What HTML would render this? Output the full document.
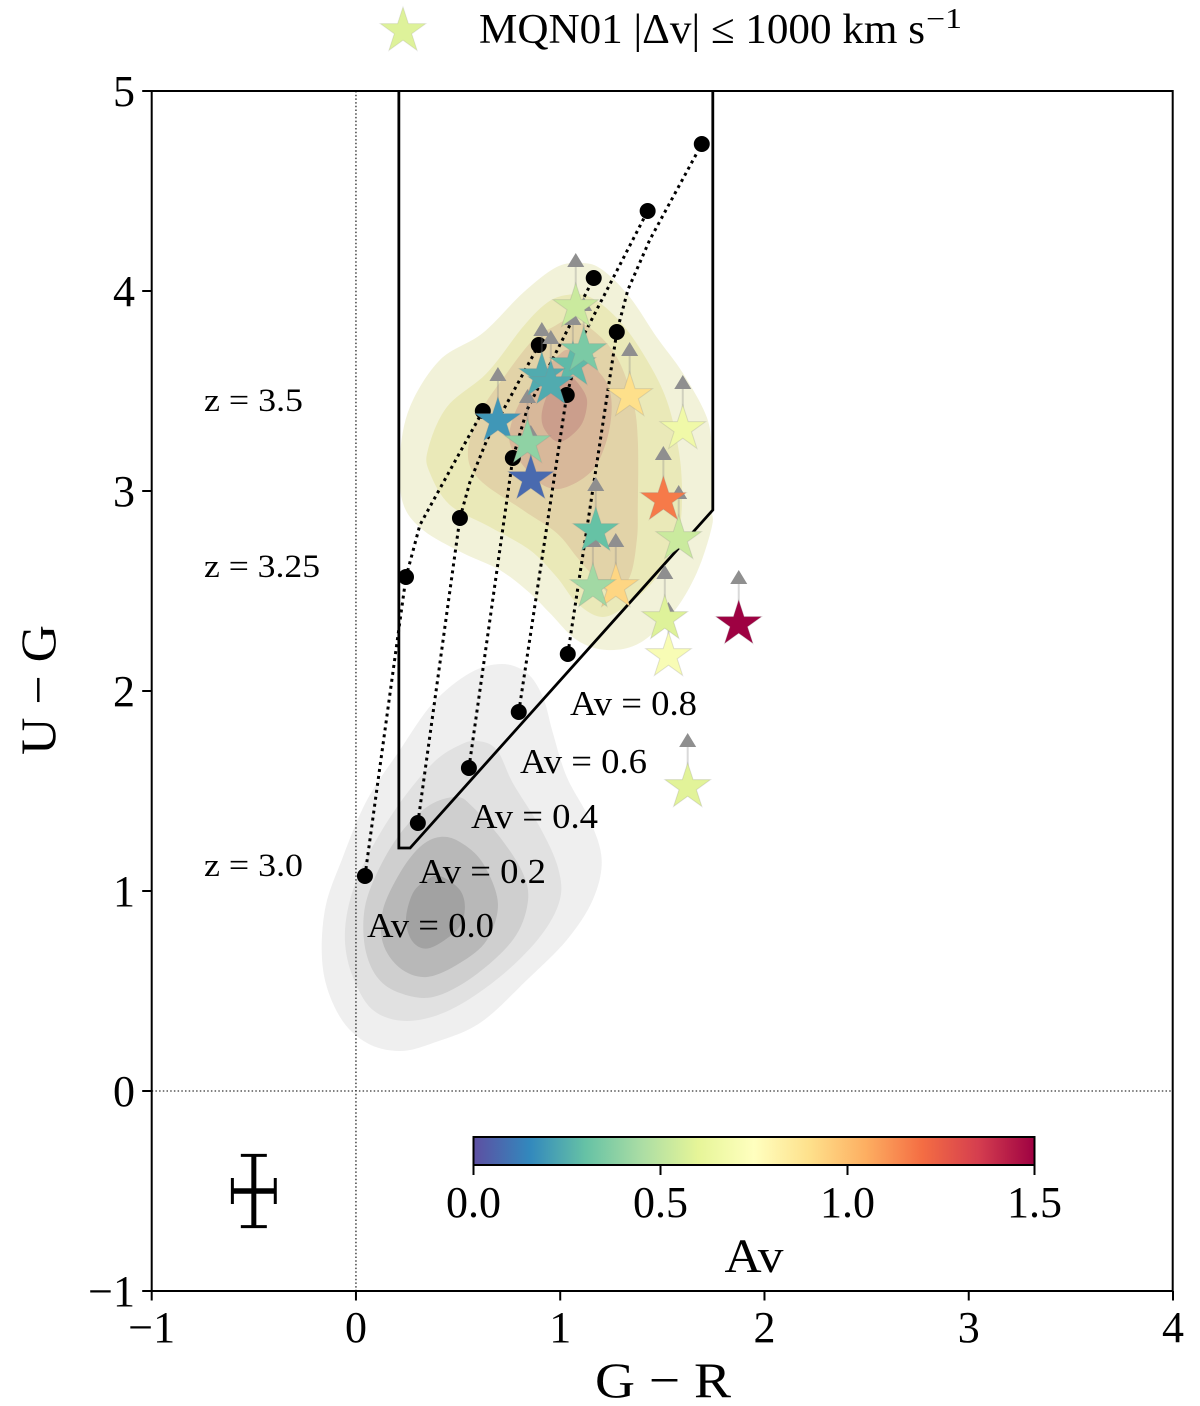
<!DOCTYPE html>
<html lang="en">
<head>
<meta charset="utf-8">
<title>U-G vs G-R colour-colour diagram</title>
<style>
html,body{margin:0;padding:0;background:#fff;}
svg{display:block;font-family:"Liberation Serif",serif;fill:#000;}
</style>
</head>
<body>
<svg id="chart" xmlns="http://www.w3.org/2000/svg" width="1200" height="1406" viewBox="0 0 1200 1406">
  <defs>
    <linearGradient id="spectral-gradient" x1="0" x2="1" y1="0" y2="0"></linearGradient>
  </defs>
</svg>
<script>
// ---------- axis domain and tick labels ----------
const xDomain = [-1, 4];
const yDomain = [-1, 5];
const xTicks = [-1, 0, 1, 2, 3, 4];
const yTicks = [-1, 0, 1, 2, 3, 4, 5];
const colorbarTicks = ["0.0", "0.5", "1.0", "1.5"];
const avDomain = [0, 1.5];
const spectralStops = ["#5e4fa2","#3288bd","#66c2a5","#abdda4","#e6f598","#ffffbf","#fee08b","#fdae61","#f46d43","#d53e4f","#9e0142"];

// ---------- MQN01 stars ----------
const starX  = [1.076,1.062,1.115,0.910,0.954,0.695,0.840,0.856,1.340,1.600,1.580,1.505,1.174,1.272,1.160,1.530,1.512,1.874,1.624];
const starY  = [3.92,3.63,3.70,3.575,3.535,3.35,3.24,3.06,3.475,3.31,2.76,2.955,2.80,2.52,2.52,2.175,2.36,2.335,1.52];
const starAv = [0.53,0.28,0.345,0.24,0.24,0.19,0.39,0.07,0.90,0.66,0.53,1.17,0.30,0.93,0.43,0.71,0.58,1.50,0.59];

// ---------- reddening tracks ----------
const trackAv = ["0.0","0.2","0.4","0.6","0.8"];
const z30X  = [0.044,0.303,0.553,0.797,1.037];
const z30Y  = [1.075,1.34,1.615,1.895,2.185];
const z325X = [0.245,0.509,0.768,1.032,1.277];
const z325Y = [2.57,2.865,3.165,3.48,3.795];
const z35X  = [0.621,0.895,1.164,1.428,1.693];
const z35Y  = [3.40,3.73,4.065,4.40,4.735];
const bendX = [[0.313,0.426],[0.558,0.641],[0.837],[1.110],[1.331,1.438]];
const bendY = [[2.83,3.04],[3.045,3.255],[3.405],[3.77],[4.005,4.255]];

// ---------- selection wedge ----------
const wedgeX = [0.21,0.21,0.265,1.747,1.747];
const wedgeY = [5,1.215,1.215,2.905,5];

// ---------- typical error bar ----------
const errX = -0.5, errY = -0.5, errDx = 0.105, errDy = 0.178;

// ---------- KDE contours (background field population, grey) ----------
const greyLevel1 = [[0.714,2.135],[0.837,2.09],[0.915,1.97],[0.964,1.79],[1.032,1.57],[1.145,1.355],[1.203,1.155],[1.159,0.955],[1.032,0.755],[0.837,0.555],[0.607,0.34],[0.377,0.24],[0.215,0.2],[0.054,0.24],[-0.078,0.37],[-0.161,0.605],[-0.152,0.905],[-0.064,1.17],[0.054,1.455],[0.215,1.705],[0.377,1.94],[0.558,2.09]];
const greyLevel2 = [[0.597,1.75],[0.690,1.705],[0.768,1.54],[0.900,1.32],[0.988,1.12],[0.998,0.955],[0.900,0.77],[0.704,0.57],[0.460,0.405],[0.249,0.35],[0.083,0.405],[-0.015,0.57],[-0.054,0.755],[-0.029,0.955],[0.054,1.17],[0.201,1.42],[0.377,1.64],[0.509,1.73]];
const greyLevel3 = [[0.494,1.47],[0.572,1.42],[0.704,1.27],[0.817,1.09],[0.841,0.94],[0.768,0.755],[0.572,0.57],[0.377,0.47],[0.215,0.49],[0.103,0.57],[0.044,0.72],[0.044,0.92],[0.117,1.12],[0.230,1.305],[0.362,1.43]];
const greyLevel4 = [[0.411,1.27],[0.509,1.245],[0.621,1.14],[0.695,0.94],[0.641,0.755],[0.509,0.64],[0.347,0.57],[0.215,0.615],[0.132,0.74],[0.132,0.905],[0.215,1.09],[0.313,1.22]];
const greyLevel5 = [[0.411,1.075],[0.509,1.005],[0.533,0.905],[0.494,0.805],[0.362,0.715],[0.279,0.745],[0.245,0.855],[0.279,0.99],[0.347,1.055]];

// ---------- KDE contours (selected population, yellow-tan) ----------
const tanLevel1 = [[1.110,4.14],[1.208,4.105],[1.340,3.97],[1.472,3.77],[1.600,3.59],[1.717,3.37],[1.742,3.19],[1.742,2.92],[1.742,2.82],[1.668,2.59],[1.551,2.39],[1.389,2.24],[1.228,2.205],[1.081,2.255],[0.949,2.39],[0.851,2.49],[0.704,2.605],[0.523,2.69],[0.328,2.805],[0.230,2.94],[0.215,3.17],[0.264,3.42],[0.411,3.655],[0.621,3.79],[0.817,3.99],[0.983,4.12]];
const tanLevel2 = [[1.032,3.98],[1.145,3.97],[1.277,3.865],[1.404,3.69],[1.521,3.455],[1.585,3.17],[1.595,2.92],[1.570,2.77],[1.472,2.57],[1.340,2.44],[1.208,2.37],[1.081,2.44],[0.983,2.57],[0.851,2.705],[0.656,2.82],[0.460,2.93],[0.362,3.09],[0.352,3.205],[0.445,3.42],[0.641,3.59],[0.817,3.82],[0.934,3.94]];
const tanLevel3 = [[1.047,3.855],[1.159,3.805],[1.277,3.67],[1.355,3.455],[1.380,3.255],[1.380,2.92],[1.375,2.755],[1.340,2.57],[1.252,2.485],[1.179,2.555],[1.081,2.67],[0.983,2.79],[0.817,2.905],[0.607,3.055],[0.548,3.19],[0.607,3.39],[0.739,3.59],[0.866,3.755],[0.964,3.82]];
const tanLevel4 = [[1.047,3.705],[1.145,3.64],[1.228,3.54],[1.252,3.42],[1.228,3.255],[1.159,3.105],[1.032,3.02],[0.934,3.02],[0.837,3.105],[0.753,3.24],[0.778,3.39],[0.866,3.54],[0.983,3.67]];
const tanLevel5 = [[1.057,3.57],[1.120,3.49],[1.130,3.42],[1.096,3.32],[0.998,3.245],[0.925,3.305],[0.910,3.39],[0.949,3.505],[1.013,3.565]];

const greyLevels = [greyLevel1, greyLevel2, greyLevel3, greyLevel4, greyLevel5];
const tanLevels  = [tanLevel1, tanLevel2, tanLevel3, tanLevel4, tanLevel5];
const greyFills  = ["#efefef","#e1e1e1","#cfcfcf","#b8b8b8","#a2a2a2"];
const tanFills   = ["#f2f2d9","#eae9b8","#e2d3a8","#d8b89a","#cb9e8c"];

// ---------- layout ----------
const plot = {left:151.7, right:1173, top:91, bottom:1291};
const bar  = {left:473.5, right:1034.5, top:1137, bottom:1165};
const NS = "http://www.w3.org/2000/svg";
const svg = document.getElementById("chart");

function sx(v){ return plot.left + (v - xDomain[0]) / (xDomain[1] - xDomain[0]) * (plot.right - plot.left); }
function sy(v){ return plot.bottom - (v - yDomain[0]) / (yDomain[1] - yDomain[0]) * (plot.bottom - plot.top); }
function sAv(v){ return bar.left + (v - avDomain[0]) / (avDomain[1] - avDomain[0]) * (bar.right - bar.left); }

function make(tag, attrs, parent){
  const el = document.createElementNS(NS, tag);
  for (const k in attrs) el.setAttribute(k, attrs[k]);
  (parent || svg).appendChild(el);
  return el;
}
function hexRgb(h){ return [1,3,5].map(function(i){ return parseInt(h.substr(i,2),16); }); }
function spectral(av){
  const t = Math.max(0, Math.min(1, (av - avDomain[0]) / (avDomain[1] - avDomain[0]))) * (spectralStops.length - 1);
  const i = Math.min(Math.floor(t), spectralStops.length - 2);
  const a = hexRgb(spectralStops[i]), b = hexRgb(spectralStops[i + 1]), f = t - i;
  return "rgb(" + a.map(function(c, n){ return Math.round(c + (b[n] - c) * f); }).join(",") + ")";
}
function smoothClosed(pts){
  const p = pts.map(function(d){ return [sx(d[0]), sy(d[1])]; });
  const n = p.length;
  let s = "M" + p[0][0].toFixed(1) + "," + p[0][1].toFixed(1);
  for (let i = 0; i < n; i++){
    const p0 = p[(i - 1 + n) % n], p1 = p[i], p2 = p[(i + 1) % n], p3 = p[(i + 2) % n];
    s += "C" + (p1[0] + (p2[0] - p0[0]) / 6).toFixed(1) + "," + (p1[1] + (p2[1] - p0[1]) / 6).toFixed(1) + " " +
         (p2[0] - (p3[0] - p1[0]) / 6).toFixed(1) + "," + (p2[1] - (p3[1] - p1[1]) / 6).toFixed(1) + " " +
         p2[0].toFixed(1) + "," + p2[1].toFixed(1);
  }
  return s + "Z";
}
function starPath(cx, cy, R){
  const r = R * 0.382;
  let s = "";
  for (let i = 0; i < 10; i++){
    const rad = i % 2 ? r : R, ang = -Math.PI / 2 + i * Math.PI / 5;
    s += (i ? "L" : "M") + (cx + rad * Math.cos(ang)).toFixed(1) + "," + (cy + rad * Math.sin(ang)).toFixed(1);
  }
  return s + "Z";
}
function label(x, y, str, size, anchor, len){
  const attrs = {x:x, y:y, "font-size":size, "text-anchor":anchor || "start"};
  if (len){ attrs.textLength = len; attrs.lengthAdjust = "spacingAndGlyphs"; }
  const t = make("text", attrs);
  t.textContent = str;
  return t;
}

// gradient for the colour bar
const gradient = document.getElementById("spectral-gradient");
spectralStops.forEach(function(c, i){
  make("stop", {offset:(i / (spectralStops.length - 1)), "stop-color":c}, gradient);
});

// KDE fills
greyLevels.forEach(function(level, i){
  const c = make("path", {d:smoothClosed(level), fill:greyFills[i]});
  
  
});
tanLevels.forEach(function(level, i){
  const c = make("path", {d:smoothClosed(level), fill:tanFills[i]});
  
  
});

// zero reference lines
const zeroV = make("line", {x1:sx(0), x2:sx(0), y1:plot.top, y2:plot.bottom, stroke:"#000", "stroke-width":1.1, "stroke-dasharray":"1.5 2.2"});


const zeroH = make("line", {x1:plot.left, x2:plot.right, y1:sy(0), y2:sy(0), stroke:"#000", "stroke-width":1.1, "stroke-dasharray":"1.5 2.2"});



// selection wedge
const wedge = make("polyline", {points:wedgeX.map(function(x, i){ return sx(x) + "," + sy(wedgeY[i]); }).join(" "), fill:"none", stroke:"#000", "stroke-width":2.8, "stroke-linejoin":"miter"});



// tracks
trackAv.forEach(function(av, i){
  const xs = [z30X[i], z325X[i]].concat(bendX[i], [z35X[i]]);
  const ys = [z30Y[i], z325Y[i]].concat(bendY[i], [z35Y[i]]);
  const line = make("polyline", {points:xs.map(function(x, k){ return sx(x) + "," + sy(ys[k]); }).join(" "), fill:"none", stroke:"#000", "stroke-width":3, "stroke-dasharray":"3 4", "stroke-linejoin":"round"});
  
  
  [[z30X, z30Y], [z325X, z325Y], [z35X, z35Y]].forEach(function(pair){
    const dot = make("circle", {cx:sx(pair[0][i]), cy:sy(pair[1][i]), r:8, fill:"#000"});
    
    
  });
});

// lower-limit arrows, then stars
const arrowTipUp = 0.27, arrowBaseUp = 0.2, arrowHalf = 8.5, starRadius = 24;
starX.forEach(function(x, i){
  const px = sx(x), base = sy(starY[i] + arrowBaseUp), tip = sy(starY[i] + arrowTipUp);
  const stem = make("line", {x1:px, x2:px, y1:sy(starY[i]), y2:base, stroke:"rgba(130,130,130,0.3)", "stroke-width":2});
  
  
  const head = make("polygon", {points:px + "," + tip + " " + (px - arrowHalf) + "," + base + " " + (px + arrowHalf) + "," + base, fill:"#8f8f8f"});
  
  
});
starX.forEach(function(x, i){
  const star = make("path", {d:starPath(sx(x), sy(starY[i]), starRadius), fill:spectral(starAv[i]), stroke:"rgba(140,140,140,0.25)", "stroke-width":1});
  
  
});

// axes frame
const frame = make("rect", {x:plot.left, y:plot.top, width:plot.right - plot.left - 0.3, height:plot.bottom - plot.top, fill:"none", stroke:"#000", "stroke-width":2});



function fmtTick(v){ return v < 0 ? "\u2212" + Math.abs(v) : String(v); }
xTicks.forEach(function(v){
  const tick = make("line", {x1:sx(v), x2:sx(v), y1:plot.bottom, y2:plot.bottom + 9.5, stroke:"#000", "stroke-width":2});
  
  
  const t = label(sx(v), 1342, fmtTick(v), 44, "middle");
  
  
});
yTicks.forEach(function(v){
  const tick = make("line", {x1:plot.left - 9.5, x2:plot.left, y1:sy(v), y2:sy(v), stroke:"#000", "stroke-width":2});
  
  
  const t = label(135, sy(v) + 15, fmtTick(v), 44, "end");
  
  
});

// axis titles
const xTitle = label(595, 1397, "G \u2212 R", 50, "start", 136);


const yTitle = label(55, 690, "U \u2212 G", 50, "middle", 130);
yTitle.setAttribute("transform", "rotate(-90 55 690)");



// redshift annotations
const zLabels = [["z = 3.5", 411, 99], ["z = 3.25", 577, 116], ["z = 3.0", 876, 99]];
zLabels.forEach(function(z){
  const t = label(204, z[1], z[0], 33, "start", z[2]);
  
  
});
// extinction annotations
const avLabelX = [367, 419, 471, 520, 570];
const avLabelY = [937, 883, 828, 773, 715];
trackAv.forEach(function(av, i){
  const t = label(avLabelX[i], avLabelY[i], "Av = " + av, 35, "start", 127);
  
  
});

// colour bar
const barRect = make("rect", {x:bar.left, y:bar.top, width:bar.right - bar.left, height:bar.bottom - bar.top, fill:"url(#spectral-gradient)", stroke:"#000", "stroke-width":2});


colorbarTicks.forEach(function(v){
  const px = sAv(parseFloat(v));
  const tick = make("line", {x1:px, x2:px, y1:bar.bottom, y2:bar.bottom + 10, stroke:"#000", "stroke-width":2});
  
  
  const t = label(px, 1217, v, 44, "middle", 55);
  
  
});
const barTitle = label(754, 1272, "Av", 48, "middle", 59);



// typical error bars
const errH = make("line", {x1:sx(errX - errDx), x2:sx(errX + errDx), y1:sy(errY), y2:sy(errY), stroke:"#000", "stroke-width":5.5});


const errV = make("line", {x1:sx(errX), x2:sx(errX), y1:sy(errY + errDy), y2:sy(errY - errDy), stroke:"#000", "stroke-width":5});


[errX - errDx, errX + errDx].forEach(function(v){
  const cap = make("line", {x1:sx(v), x2:sx(v), y1:sy(errY) - 13, y2:sy(errY) + 13, stroke:"#000", "stroke-width":3});
  
  
});
[errY - errDy, errY + errDy].forEach(function(v){
  const cap = make("line", {x1:sx(errX) - 13, x2:sx(errX) + 13, y1:sy(v), y2:sy(v), stroke:"#000", "stroke-width":3});
  
  
});

// legend
const legendStar = make("path", {d:starPath(403, 31, starRadius), fill:spectral(0.58), stroke:"rgba(140,140,140,0.2)", "stroke-width":1});


const legendText = label(479, 43, "MQN01 |\u0394v| \u2264 1000 km s", 42, "start", 446);


const legendSup = label(926, 28, "\u22121", 28, "start", 36);


</script>
</body>
</html>
